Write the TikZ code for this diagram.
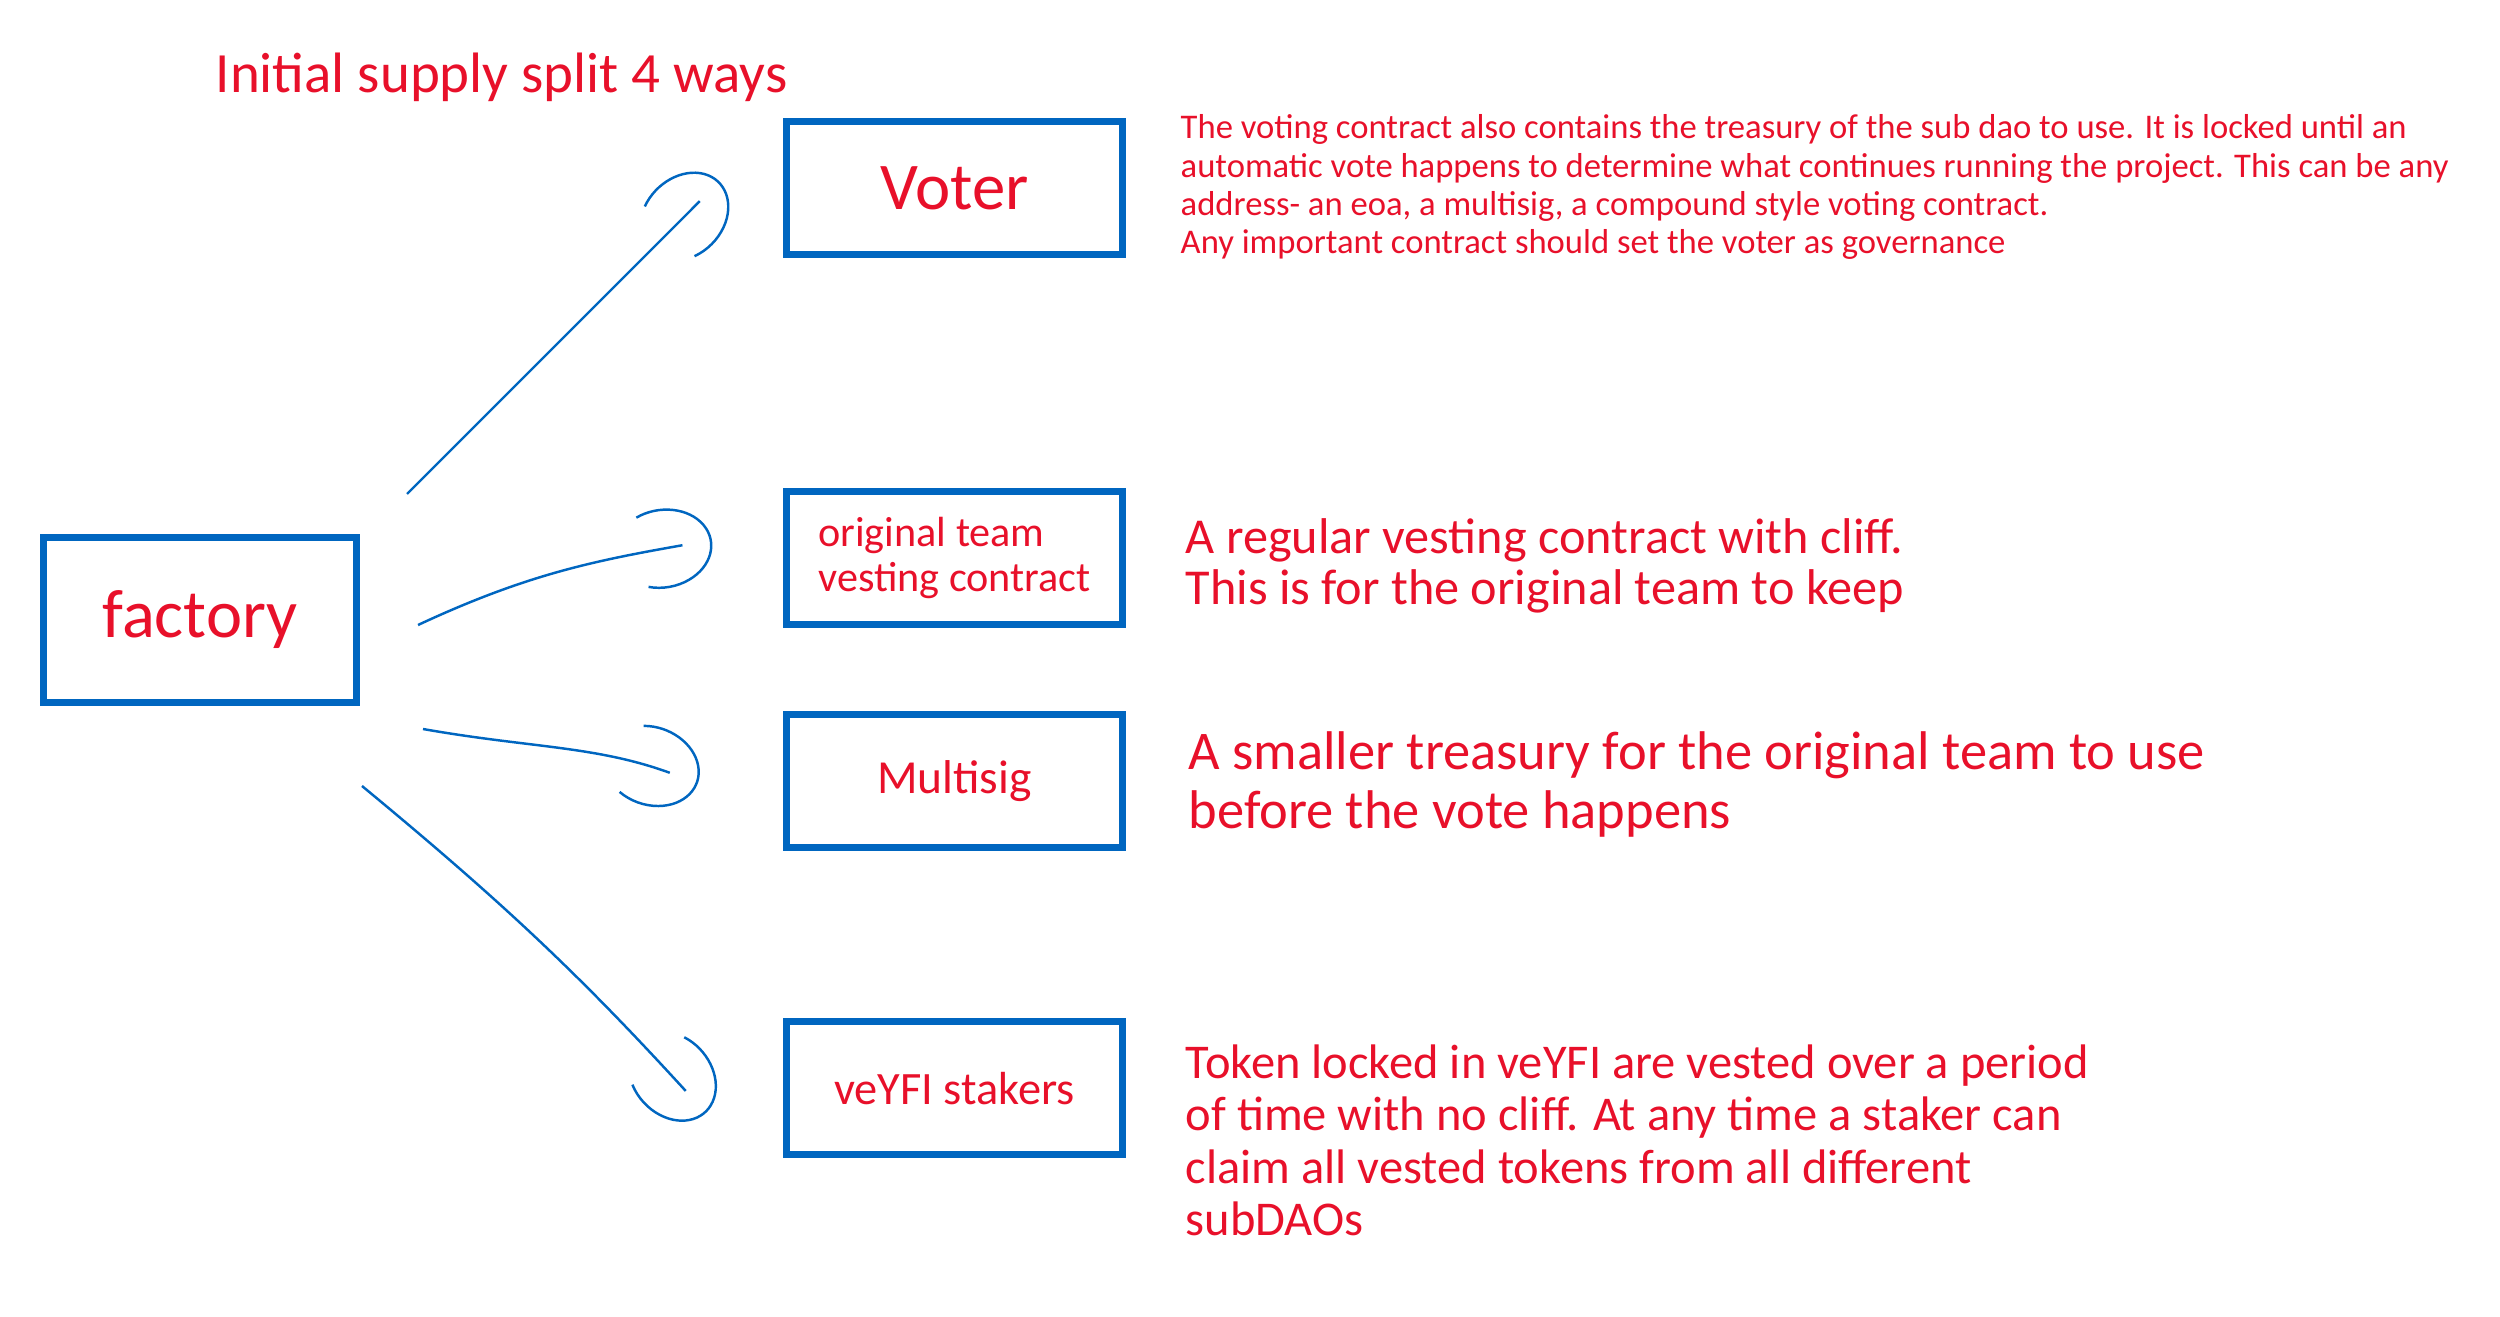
\documentclass[tikz,border=0pt]{standalone}
\usepackage{fontspec}
\setmainfont{Carlito}
\usepackage{tikz}
\definecolor{xblue}{RGB}{0,102,192}
\definecolor{xred}{RGB}{232,16,42}
\tikzstyle{box} = [rectangle, draw=xblue, line width=2pt,
    minimum width=3.36cm, minimum height=1.33cm, text=xred, align=center]
\tikzstyle{note} = [text=xred, align=left, inner sep=0pt]
\tikzstyle{split} = [xblue, line width=0.7pt, shorten >=3mm,
    postaction={decorate, decoration={markings,
        mark=at position 1 with {\arrow{Arc Barb[arc=230,length=5mm,width=8mm]}}}}]
\usetikzlibrary{arrows.meta}
\usetikzlibrary{positioning}
\usetikzlibrary{decorations.markings}

\begin{document}
\begin{tikzpicture}
    \useasboundingbox (0,0) rectangle (25,-13.17);

    \node[note, anchor=west, font=\fontsize{16.2}{19}\selectfont] (title) at (2.15,-0.77) {Initial supply split 4 ways};

    \node[box, font=\fontsize{19}{22}\selectfont] (voter) at (9.545,-1.88) {Voter};
    \node[box, below=2.3cm of voter, font=\fontsize{12}{12.8}\selectfont, align=left] (team) {original team\\vesting contract};
    \node[box, below=0.83cm of team, font=\fontsize{13.5}{15}\selectfont] (multisig) {Multisig};
    \node[box, below=1.67cm of multisig, font=\fontsize{13.2}{15}\selectfont] (veyfi) {veYFI stakers};

    \node[box, minimum width=3.13cm, minimum height=1.65cm, font=\fontsize{19.5}{22}\selectfont] (factory) at (2.0,-6.2) {factory};

    \draw[split] ([shift={(0.47,0.40)}]factory.north east) -- ([shift={(-0.62,0.08)}]voter.west);
    \draw[split] ([shift={(0.58,-0.05)}]factory.east) to [out=25,in=190] ([shift={(-0.71,0.18)}]team.west);
    \draw[split] ([shift={(0.63,-0.23)}]factory.south east) to [out=-10,in=160] ([shift={(-0.85,-0.02)}]multisig.west);
    \draw[split] ([shift={(0.02,-0.80)}]factory.south east) to [bend left=4] ([shift={(-0.77,-0.25)}]veyfi.west);

    \node[note, below right=-0.04cm and 0.54cm of voter.north east, font=\fontsize{9.85}{10.9}\selectfont] (voternote)
        {The voting contract also contains the treasury of the sub dao to use. It is locked until an\\
         automatic vote happens to determine what continues running the project. This can be any\\
         address- an eoa, a multisig, a compound style voting contract.\\
         Any important contract should set the voter as governance};
    \node[note, below right=0.30cm and 0.59cm of team.north east, font=\fontsize{14.3}{14.6}\selectfont] (teamnote)
        {A regular vesting contract with cliff.\\This is for the original team to keep};
    \node[note, below right=0.20cm and 0.62cm of multisig.north east, font=\fontsize{15.5}{16.8}\selectfont] (multisignote)
        {A smaller treasury for the original team to use\\before the vote happens};
    \node[note, below right=0.26cm and 0.59cm of veyfi.north east, font=\fontsize{13.8}{14.9}\selectfont] (veyfinote)
        {Token locked in veYFI are vested over a period\\of time with no cliff. At any time a staker can\\claim all vested tokens from all different\\subDAOs};
\end{tikzpicture}
\end{document}
